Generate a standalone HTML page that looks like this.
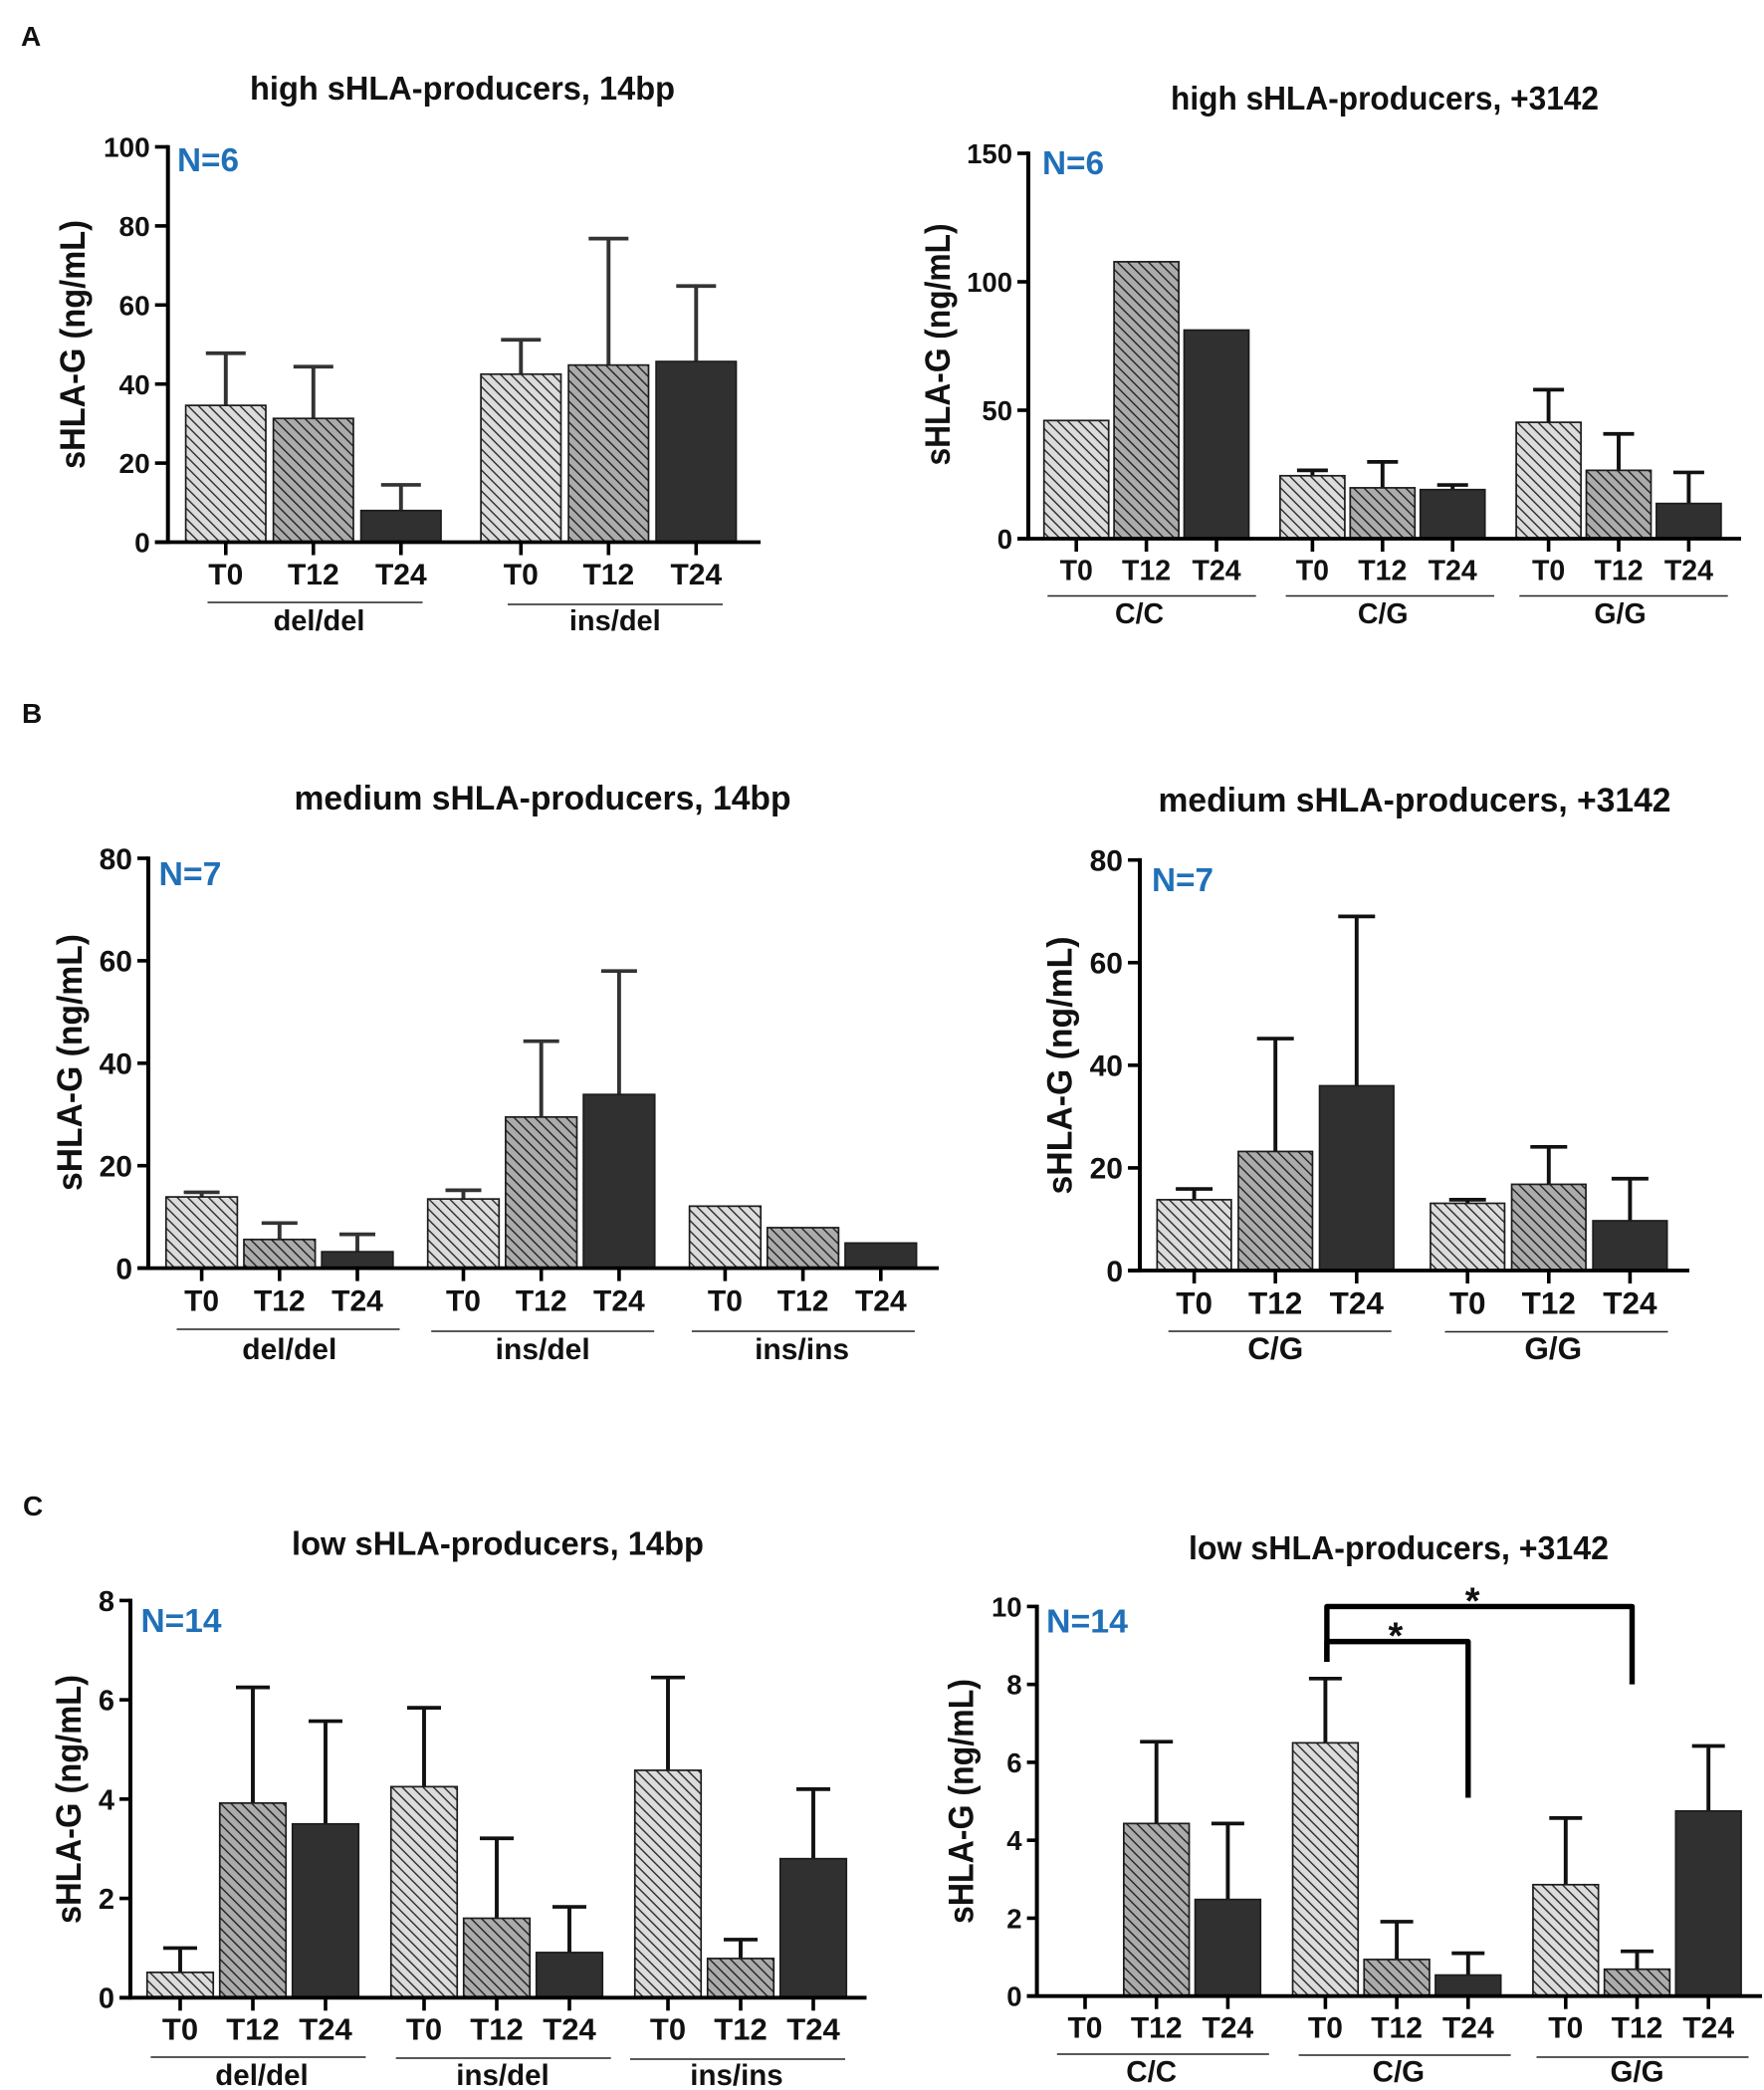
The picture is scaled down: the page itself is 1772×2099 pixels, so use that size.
<!DOCTYPE html>
<html lang="en">
<head>
<meta charset="utf-8">
<title>sHLA-G levels by producer group and genotype</title>
<style>
html,body{margin:0;padding:0;background:#fff;width:1772px;height:2099px;overflow:hidden}
svg{display:block}
text{font-family:"Liberation Sans",Arial,sans-serif;font-weight:700;fill:#111}
.n{fill:#2070b8}
</style>
</head>
<body>
<svg id="figure" xmlns="http://www.w3.org/2000/svg" width="1772" height="2099" viewBox="0 0 1772 2099">
<defs>
<pattern id="hatch-light" patternUnits="userSpaceOnUse" width="7.4" height="7.4" patternTransform="rotate(-45)">
<rect width="7.4" height="7.4" fill="#dcdcdc"/><rect width="1.4" height="7.4" fill="#2b2b2b"/>
</pattern>
<pattern id="hatch-mid" patternUnits="userSpaceOnUse" width="7.4" height="7.4" patternTransform="rotate(-45)">
<rect width="7.4" height="7.4" fill="#ababab"/><rect width="1.4" height="7.4" fill="#222"/>
</pattern>
</defs>
<rect width="1772" height="2099" fill="#fff"/>

<text x="21" y="46" font-size="28">A</text>
<text x="22" y="726" font-size="28">B</text>
<text x="23" y="1522" font-size="28">C</text>

<g id="panel-a1">
<text x="464.5" y="100" font-size="33" text-anchor="middle" textLength="427" lengthAdjust="spacingAndGlyphs">high sHLA-producers, 14bp</text>
<text transform="translate(85 346) rotate(-90)" font-size="35" text-anchor="middle" textLength="250" lengthAdjust="spacingAndGlyphs">sHLA-G (ng/mL)</text>
<text class="n" x="178" y="172" font-size="33.5" textLength="62" lengthAdjust="spacingAndGlyphs">N=6</text>
</g>
<g id="panel-a2">
<text x="1391" y="110" font-size="33" text-anchor="middle" textLength="430" lengthAdjust="spacingAndGlyphs">high sHLA-producers, +3142</text>
<text transform="translate(954 346) rotate(-90)" font-size="35" text-anchor="middle" textLength="243" lengthAdjust="spacingAndGlyphs">sHLA-G (ng/mL)</text>
<text class="n" x="1047" y="175" font-size="33.5" textLength="62" lengthAdjust="spacingAndGlyphs">N=6</text>
</g>
<g id="panel-b1">
<text x="545" y="813" font-size="34" text-anchor="middle" textLength="499" lengthAdjust="spacingAndGlyphs">medium sHLA-producers, 14bp</text>
<text transform="translate(82 1067) rotate(-90)" font-size="35" text-anchor="middle" textLength="258" lengthAdjust="spacingAndGlyphs">sHLA-G (ng/mL)</text>
<text class="n" x="159.5" y="889" font-size="33.5" textLength="63" lengthAdjust="spacingAndGlyphs">N=7</text>
</g>
<g id="panel-b2">
<text x="1421" y="815" font-size="34" text-anchor="middle" textLength="515" lengthAdjust="spacingAndGlyphs">medium sHLA-producers, +3142</text>
<text transform="translate(1076.5 1070) rotate(-90)" font-size="35" text-anchor="middle" textLength="259" lengthAdjust="spacingAndGlyphs">sHLA-G (ng/mL)</text>
<text class="n" x="1157" y="895" font-size="33.5" textLength="62" lengthAdjust="spacingAndGlyphs">N=7</text>
</g>
<g id="panel-c1">
<text x="500" y="1561.5" font-size="33" text-anchor="middle" textLength="414" lengthAdjust="spacingAndGlyphs">low sHLA-producers, 14bp</text>
<text transform="translate(81 1807) rotate(-90)" font-size="35" text-anchor="middle" textLength="250" lengthAdjust="spacingAndGlyphs">sHLA-G (ng/mL)</text>
<text class="n" x="141.5" y="1639" font-size="33.5" textLength="81" lengthAdjust="spacingAndGlyphs">N=14</text>
</g>
<g id="panel-c2">
<text x="1405" y="1566" font-size="33" text-anchor="middle" textLength="422" lengthAdjust="spacingAndGlyphs">low sHLA-producers, +3142</text>
<text transform="translate(977.5 1809) rotate(-90)" font-size="35" text-anchor="middle" textLength="246" lengthAdjust="spacingAndGlyphs">sHLA-G (ng/mL)</text>
<text class="n" x="1051" y="1639.5" font-size="33.5" textLength="82" lengthAdjust="spacingAndGlyphs">N=14</text>
</g>
</svg>

<script>
// ---- Data ----
const timepoints = ['T0', 'T12', 'T24'];

const highBpGroups = ['del/del', 'ins/del'];
const highBpTicks = [0, 20, 40, 60, 80, 100];
const highBpMeans = [34.6, 31.3, 8, 42.5, 44.8, 45.7];
const highBpErrorTops = [47.8, 44.4, 14.5, 51.2, 76.8, 64.8];

const highSnpGroups = ['C/C', 'C/G', 'G/G'];
const highSnpTicks = [0, 50, 100, 150];
const highSnpMeans = [46, 107.8, 81.2, 24.5, 19.8, 19.1, 45.3, 26.6, 13.7];
const highSnpErrorTops = [null, null, null, 26.6, 29.9, 20.9, 58, 40.8, 25.8];

const mediumBpGroups = ['del/del', 'ins/del', 'ins/ins'];
const mediumBpTicks = [0, 20, 40, 60, 80];
const mediumBpMeans = [13.9, 5.6, 3.2, 13.5, 29.5, 33.9, 12.1, 7.9, 4.9];
const mediumBpErrorTops = [14.8, 8.8, 6.6, 15.2, 44.3, 58, null, null, null];

const mediumSnpGroups = ['C/G', 'G/G'];
const mediumSnpTicks = [0, 20, 40, 60, 80];
const mediumSnpMeans = [13.8, 23.2, 36, 13.1, 16.8, 9.7];
const mediumSnpErrorTops = [15.9, 45.2, 69, 13.8, 24.1, 17.9];

const lowBpGroups = ['del/del', 'ins/del', 'ins/ins'];
const lowBpTicks = [0, 2, 4, 6, 8];
const lowBpMeans = [0.51, 3.92, 3.5, 4.25, 1.6, 0.91, 4.58, 0.79, 2.8];
const lowBpErrorTops = [1, 6.25, 5.57, 5.84, 3.21, 1.83, 6.45, 1.17, 4.2];

const lowSnpGroups = ['C/C', 'C/G', 'G/G'];
const lowSnpTicks = [0, 2, 4, 6, 8, 10];
const lowSnpMeans = [0, 4.43, 2.48, 6.5, 0.94, 0.54, 2.86, 0.69, 4.75];
const lowSnpErrorTops = [null, 6.53, 4.43, 8.15, 1.91, 1.1, 4.57, 1.15, 6.42];

// Significance brackets on the low / +3142 chart: bar indices and value levels
const bracketFromBars = [3, 3];
const bracketToBars = [5, 7];
const bracketLevels = [9.1, 10];
const bracketLeftEnds = [8.58, 8.58];
const bracketRightEnds = [5.09, 8];

// ---- Layout ----
const panels = [
  {id:'panel-a1', means:highBpMeans, tops:highBpErrorTops, ticks:highBpTicks, groups:highBpGroups,
   axisX:168.7, plotTop:147.5, base:544.5, tickLen:13, right:764, x0:226.8, step:88, gap:32.5, barW:80.4, capW:40,
   errColor:'#333', tickFont:28, catFont:30, catBase:587, groupFont:29, groupBase:633,
   lineHalf:108, lineDx:[1.7,6.7], lineYs:[605,607], labelDx:[5.7,6.5]},
  {id:'panel-a2', means:highSnpMeans, tops:highSnpErrorTops, ticks:highSnpTicks, groups:highSnpGroups,
   axisX:1033, plotTop:154, base:541, tickLen:11, right:1749, x0:1081.2, step:70.4, gap:26, barW:65, capW:31,
   errColor:'#111', tickFont:27.5, catFont:28.5, catBase:582.5, groupFont:28.5, groupBase:626,
   lineHalf:104.7, lineDx:[5.4,7.5,5], lineYs:[598.5,598.5,598.5], labelDx:[-7,0.4,1.5]},
  {id:'panel-b1', means:mediumBpMeans, tops:mediumBpErrorTops, ticks:mediumBpTicks, groups:mediumBpGroups,
   axisX:149, plotTop:862, base:1273.6, tickLen:11, right:943, x0:202.6, step:78.2, gap:28.3, barW:71.6, capW:36,
   errColor:'#333', tickFont:30, catFont:30, catBase:1316.5, groupFont:30, groupBase:1365,
   lineHalf:112, lineDx:[8.7,1.5,0.3], lineYs:[1335,1337,1337], labelDx:[10,1.5,-1]},
  {id:'panel-b2', means:mediumSnpMeans, tops:mediumSnpErrorTops, ticks:mediumSnpTicks, groups:mediumSnpGroups,
   axisX:1145, plotTop:863.7, base:1276, tickLen:12, right:1697, x0:1199.6, step:81.6, gap:29.8, barW:74.5, capW:37,
   errColor:'#111', tickFont:30, catFont:31.5, catBase:1319.5, groupFont:31.5, groupBase:1365,
   lineHalf:112, lineDx:[4.5,7.7], lineYs:[1337,1337.5], labelDx:[0,4.5]},
  {id:'panel-c1', means:lowBpMeans, tops:lowBpErrorTops, ticks:lowBpTicks, groups:lowBpGroups,
   axisX:131, plotTop:1607.4, base:2006.3, tickLen:11, right:870.5, x0:181, step:73, gap:26, barW:66.5, capW:34,
   errColor:'#111', tickFont:29, catFont:31, catBase:2048.5, groupFont:29.5, groupBase:2094,
   lineHalf:108, lineDx:[5.4,6.7,-3], lineYs:[2066,2067,2068], labelDx:[9,6,-4]},
  {id:'panel-c2', means:lowSnpMeans, tops:lowSnpErrorTops, ticks:lowSnpTicks, groups:lowSnpGroups,
   axisX:1041.6, plotTop:1613.4, base:2004.7, tickLen:10, right:1770, x0:1090, step:71.7, gap:26.3, barW:65.7, capW:33,
   errColor:'#111', tickFont:27.5, catFont:30, catBase:2046.5, groupFont:29.5, groupBase:2090.5,
   lineHalf:106.5, lineDx:[6.6,8,5.5], lineYs:[2063,2064,2066], labelDx:[-5,1.8,0], brackets:true}
];

const SVGNS = 'http://www.w3.org/2000/svg';
const barFills = ['url(#hatch-light)', 'url(#hatch-mid)', '#303030'];

function draw(tag, attrs, parent) {
  const el = document.createElementNS(SVGNS, tag);
  for (const k in attrs) el.setAttribute(k, attrs[k]);
  parent.appendChild(el);
  return el;
}

function renderPanel(p) {
  const root = document.getElementById(p.id);
  const perGroup = timepoints.length;
  const maxTick = p.ticks[p.ticks.length - 1];
  const yScale = v => p.base - (v / maxTick) * (p.base - p.plotTop);
  const xScale = i => p.x0 + i * p.step + Math.floor(i / perGroup) * p.gap;

  // error bars
  p.tops.forEach((t, i) => {
    if (t === null) return;
    const stem = draw('line', {x1:xScale(i), x2:xScale(i), y1:yScale(p.means[i]), y2:yScale(t), stroke:p.errColor, 'stroke-width':3.9}, root);
    
    
    const cap = draw('line', {x1:xScale(i) - p.capW / 2, x2:xScale(i) + p.capW / 2, y1:yScale(t), y2:yScale(t), stroke:p.errColor, 'stroke-width':3.7}, root);
    
    
  });

  // bars
  p.means.forEach((m, i) => {
    if (m <= 0) return;
    const kind = i % perGroup;
    const bar = draw('rect', {x:xScale(i) - p.barW / 2, y:yScale(m), width:p.barW, height:p.base - yScale(m), fill:barFills[kind], stroke:'#1c1c1c', 'stroke-width':1.7}, root);
    
    
  });

  // y axis with ticks and labels
  const yAxis = draw('line', {x1:p.axisX, x2:p.axisX, y1:p.plotTop - 1.8, y2:p.base + 1.8, stroke:'#000', 'stroke-width':4}, root);
  
  
  p.ticks.forEach(v => {
    const tick = draw('line', {x1:p.axisX - p.tickLen, x2:p.axisX, y1:yScale(v), y2:yScale(v), stroke:'#000', 'stroke-width':3.6}, root);
    
    
    const lab = draw('text', {x:p.axisX - p.tickLen - 5, y:yScale(v) + p.tickFont * 0.36, 'font-size':p.tickFont, 'text-anchor':'end'}, root);
    lab.textContent = v;
    
    
  });

  // x axis with ticks and category labels
  const xAxis = draw('line', {x1:p.axisX - p.tickLen, x2:p.right, y1:p.base, y2:p.base, stroke:'#000', 'stroke-width':3.8}, root);
  
  
  p.means.forEach((m, i) => {
    const tick = draw('line', {x1:xScale(i), x2:xScale(i), y1:p.base, y2:p.base + 13, stroke:'#000', 'stroke-width':3.6}, root);
    
    
    const lab = draw('text', {x:xScale(i), y:p.catBase, 'font-size':p.catFont, 'text-anchor':'middle'}, root);
    lab.textContent = timepoints[i % perGroup];
    
    
  });

  // genotype group underlines and labels
  p.groups.forEach((g, k) => {
    const mid = xScale(k * perGroup + 1);
    const c = mid + p.lineDx[k];
    const rule = draw('line', {x1:c - p.lineHalf, x2:c + p.lineHalf, y1:p.lineYs[k], y2:p.lineYs[k], stroke:'#222', 'stroke-width':1.6}, root);
    
    
    const lab = draw('text', {x:mid + p.labelDx[k], y:p.groupBase, 'font-size':p.groupFont, 'text-anchor':'middle'}, root);
    lab.textContent = g;
    
    
  });

  // significance brackets
  if (p.brackets) {
    bracketLevels.forEach((level, b) => {
      const xa = xScale(bracketFromBars[b]) + 1.5;
      const xb = xScale(bracketToBars[b]) - (b === 1 ? 5 : 0);
      const d = 'M' + xa + ' ' + yScale(bracketLeftEnds[b]) + 'V' + yScale(level) + 'H' + xb + 'V' + yScale(bracketRightEnds[b]);
      const path = draw('path', {d:d, fill:'none', stroke:'#000', 'stroke-width':5.4, 'stroke-linejoin':'round'}, root);
      
      
      const star = draw('text', {x:(xa + xb) / 2 - (b === 1 ? 7 : 2), y:yScale(level) + 7, 'font-size':38, 'text-anchor':'middle'}, root);
      star.textContent = '*';
      
      
    });
  }
}

panels.forEach(renderPanel);
</script>
</body>
</html>
